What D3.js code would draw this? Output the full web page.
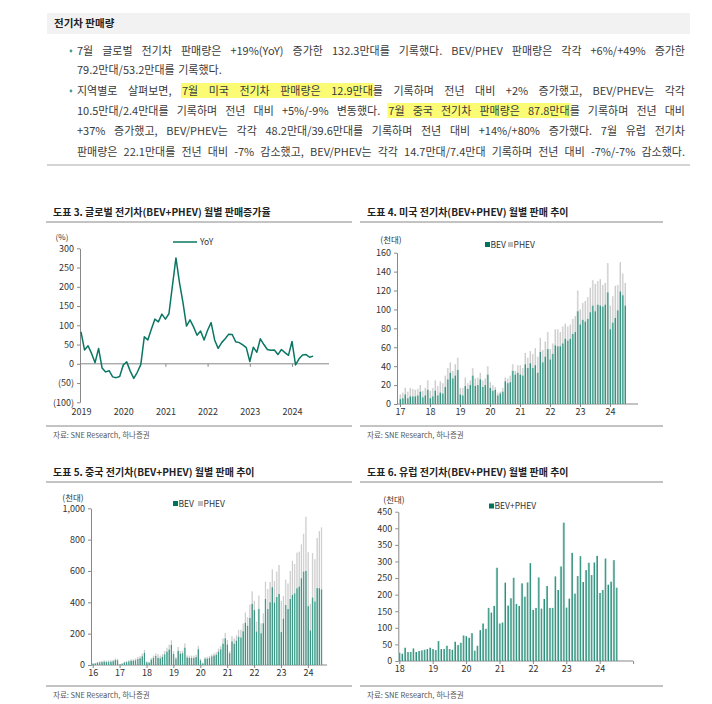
<!doctype html>
<meta charset="utf-8">
<title>전기차 판매량</title>
<script src="https://cdn.jsdelivr.net/npm/d3@7"></script>
<style>
body { margin: 0; background: #fff; }
svg text { font-family: "Noto Sans CJK KR", "Noto Sans", sans-serif; }
</style>
<body>
<script>
// ---- data ----
// global YoY (%), monthly from 2019-01
var yoy = [83,36,47,27,3,40,-11,-21,-18,-34,-36,-33,
  -3,5,-19,-38,-22,-2,70,62,90,116,109,129,
  116,130,203,275,211,159,98,114,96,74,85,62,
  87,107,62,40,55,65,77,76,57,55,49,42,
  6,43,30,65,50,37,35,36,24,37,29,22,
  58,-3,13,23,24,17,20];
var yoyYears = ["2019","2020","2021","2022","2023","2024"];
var yoyTicks = [-100,-50,0,50,100,150,200,250,300];

// US (천대), monthly from 2017-01
var usBev = [5,6,10,6,8,8,8,9,13,7,9,15,
  6,8,14,9,12,11,18,26,33,27,30,36,
  10,9,19,16,20,30,19,20,26,18,20,31,
  17,14,15,9,11,13,24,22,23,35,31,33,
  31,30,42,38,43,38,41,33,55,44,50,58,
  47,53,62,61,61,64,69,67,69,74,76,98,
  84,89,87,90,97,104,98,105,104,103,105,118,
  79,86,91,99,119,115,104];
var usTotal = [10,12,17,13,17,16,15,16,20,14,17,25,
  14,17,25,19,24,22,30,38,44,35,42,49,
  17,17,28,22,25,38,27,28,33,25,27,40,
  23,20,18,12,13,17,28,27,30,42,35,41,
  41,38,54,49,56,53,59,50,70,57,66,76,
  58,64,79,79,76,82,85,82,84,90,93,120,
  100,107,109,113,123,131,127,130,132,126,128,149,
  104,114,125,126,150,138,128];
var usYears = ["17","18","19","20","21","22","23","24"];
var usTicks = [0,20,40,60,80,100,120,140,160];

// China (천대), monthly from 2016-01
var cnBev = [8,9,14,17,19,21,19,21,21,24,32,30,
  4,8,15,19,23,27,27,30,38,42,55,78,
  18,14,33,45,58,45,42,52,68,85,98,128,
  70,40,90,72,75,110,48,45,45,45,50,100,
  30,10,40,40,45,55,60,65,85,100,135,170,
  130,75,150,135,155,180,175,215,270,250,300,390,
  350,213,357,202,266,421,357,400,496,398,434,453,
  210,295,383,357,421,447,457,489,500,553,596,600,
  375,220,430,405,490,490,482];
var cnTotal = [12,14,20,24,27,30,28,30,30,33,42,40,
  6,11,21,26,31,36,36,41,51,56,72,96,
  25,20,45,60,75,70,60,70,90,110,130,158,
  88,50,115,90,92,138,62,60,60,60,65,122,
  40,15,50,52,58,68,75,82,105,120,170,205,
  160,90,185,170,190,225,225,265,335,305,385,470,
  410,277,443,266,330,532,485,530,611,536,596,638,
  410,440,545,520,600,665,645,717,723,770,838,947,
  720,390,715,675,810,855,878];
var cnYears = ["16","17","18","19","20","21","22","23","24"];
var cnTicks = [0,200,400,600,800,1000];

// Europe BEV+PHEV (천대), monthly from 2018-01
var eu = [25,22,40,27,27,38,27,30,32,34,36,40,
  36,33,60,36,36,46,36,34,58,48,55,77,
  75,70,84,31,46,93,113,97,160,146,166,281,
  113,116,236,167,189,251,172,166,234,194,237,295,
  154,160,252,158,187,226,160,160,255,214,285,417,
  161,188,326,203,256,316,238,274,296,259,297,317,
  205,214,309,230,239,304,221];
var euYears = ["18","19","20","21","22","23","24",""];
var euTicks = [0,50,100,150,200,250,300,350,400,450];

var teal = "#00735f", grey = "#bdbdbd", ink = "#333";

var svg = d3.select("body").append("svg")
  .attr("width", 712).attr("height", 704);

var defs = svg.append("defs");
function grad(id, c0, c1, c2) {
  var g = defs.append("linearGradient").attr("id", id)
    .attr("x1", 0).attr("x2", 1).attr("y1", 0).attr("y2", 0);
  g.append("stop").attr("offset", 0).attr("stop-color", c0);
  g.append("stop").attr("offset", 0.45).attr("stop-color", c1);
  g.append("stop").attr("offset", 1).attr("stop-color", c2);
}
grad("gBev", "#b5ddd3", "#5fae9e", "#00715c");
grad("gPhev", "#f0f0f0", "#d8d8d8", "#b8b8b8");

// ---- text block ----
svg.append("rect").attr("x", 47).attr("y", 13).attr("width", 643).attr("height", 21)
  .attr("fill", "#f2f2f2");
svg.append("text").attr("x", 54).attr("y", 27).attr("font-size", 10.5)
  .attr("font-weight", "bold").attr("fill", "#222").text("전기차 판매량");
svg.append("line").attr("x1", 47).attr("x2", 690).attr("y1", 165).attr("y2", 165)
  .attr("stroke", "#aaa");

var lines = [
  {y: 51, b: true, j: true, s: "7월 글로벌 전기차 판매량은 +19%(YoY) 증가한 132.3만대를 기록했다. BEV/PHEV 판매량은 각각 +6%/+49% 증가한"},
  {y: 70, j: false, s: "79.2만대/53.2만대를 기록했다."},
  {y: 91, b: true, j: true, s: "지역별로 살펴보면, [7월 미국 전기차 판매량은 12.9만대]를 기록하며 전년 대비 +2% 증가했고, BEV/PHEV는 각각"},
  {y: 111, j: true, s: "10.5만대/2.4만대를 기록하며 전년 대비 +5%/-9% 변동했다. [7월 중국 전기차 판매량은 87.8만대]를 기록하며 전년 대비"},
  {y: 131, j: true, s: "+37% 증가했고, BEV/PHEV는 각각 48.2만대/39.6만대를 기록하며 전년 대비 +14%/+80% 증가했다. 7월 유럽 전기차"},
  {y: 152, j: true, s: "판매량은 22.1만대를 전년 대비 -7% 감소했고, BEV/PHEV는 각각 14.7만대/7.4만대 기록하며 전년 대비 -7%/-7% 감소했다."}
];

var fs = 11;
var tg = svg.append("g").attr("font-size", fs).attr("fill", "#3a3a3a");
var hg = tg.append("g");

function drawLine(str, x0, x1, y, justify) {
  var hl = false, words = [];
  str.split(" ").forEach(function(w) {
    var pieces = [], cur = "";
    Array.from(w).forEach(function(ch) {
      if (ch === "[" || ch === "]") {
        if (cur) pieces.push({t: cur, hl: hl});
        cur = ""; hl = (ch === "[");
      } else cur += ch;
    });
    if (cur) pieces.push({t: cur, hl: hl});
    words.push(pieces);
  });
  var tmp = tg.append("text");
  words.forEach(function(p) {
    p.forEach(function(q) { tmp.text(q.t); q.w = tmp.node().getComputedTextLength(); });
    p.w = d3.sum(p, function(q) { return q.w; });
  });
  tmp.remove();
  var total = d3.sum(words, function(p) { return p.w; });
  var gap = justify ? (x1 - x0 - total) / (words.length - 1) : 3.5;
  if (gap < 2) gap = 2;
  var x = x0;
  words.forEach(function(p) {
    p.forEach(function(q) { q.x = x; x += q.w; });
    x += gap;
  });
  var flat = [].concat.apply([], words), runs = [], st = null, en = null;
  flat.forEach(function(q) {
    if (q.hl) { if (st === null) st = q.x; en = q.x + q.w; }
    else if (st !== null) { runs.push([st, en]); st = null; }
  });
  if (st !== null) runs.push([st, en]);
  runs.forEach(function(r) {
    hg.append("rect").attr("x", r[0] - 1).attr("y", y - 8).attr("width", r[1] - r[0] + 2)
      .attr("height", 15).attr("fill", "#fbfb5c").attr("opacity", 0.85);
  });
  flat.forEach(function(q) {
    tg.append("text").attr("x", q.x).attr("y", y + 4).text(q.t);
  });
}

lines.forEach(function(l) {
  if (l.b) svg.append("circle").attr("cx", 71).attr("cy", l.y).attr("r", 1.4).attr("fill", "#4aa08f");
  drawLine(l.s, 77, 685, l.y, l.j);
});

// ---- chart frames ----
function frame(x0, x1, yT, title) {
  svg.append("text").attr("x", x0 + 7).attr("y", yT + 4).attr("font-size", 10)
    .attr("font-weight", "bold").attr("fill", "#222").text(title);
  [yT + 10, yT + 214].forEach(function(yy) {
    svg.append("line").attr("x1", x0).attr("x2", x1).attr("y1", yy).attr("y2", yy)
      .attr("stroke", "#888").attr("stroke-width", 1);
  });
  svg.append("text").attr("x", x0 + 7).attr("y", yT + 226).attr("font-size", 7.5)
    .attr("fill", "#555").text("자료: SNE Research, 하나증권");
}
frame(46, 352, 212, "도표 3. 글로벌 전기차(BEV+PHEV) 월별 판매증가율");
frame(360, 663, 212, "도표 4. 미국 전기차(BEV+PHEV) 월별 판매 추이");
frame(46, 352, 472, "도표 5. 중국 전기차(BEV+PHEV) 월별 판매 추이");
frame(360, 663, 472, "도표 6. 유럽 전기차(BEV+PHEV) 월별 판매 추이");

function styleAxis(g) {
  g.selectAll("line").attr("stroke", "#888");
  g.selectAll("path").attr("stroke", "#888");
  g.selectAll("text").attr("fill", ink).attr("font-size", 9)
    .style("font-family", "'Noto Sans CJK KR', sans-serif");
}

// ---- chart 3: global YoY line ----
(function() {
  var x = d3.scaleLinear().domain([0, 72]).range([81, 334.2]);
  var y = d3.scaleLinear().domain([-100, 300]).range([402.3, 248.3]);
  var ax = svg.append("g").attr("transform", "translate(80,0)")
    .call(d3.axisLeft(y).tickValues(yoyTicks).tickSize(3).tickSizeOuter(0).tickPadding(3)
      .tickFormat(function(d) { return d < 0 ? "(" + (-d) + ")" : d; }));
  styleAxis(ax);
  var yearIdx = yoyYears.map(function(d, i) { return i * 12; });
  var zx = svg.append("g").attr("transform", "translate(0," + y(0) + ")")
    .call(d3.axisBottom(x).tickValues(yearIdx.slice(1)).tickSize(3).tickFormat(""));
  zx.select(".domain").remove();
  styleAxis(zx);
  svg.append("line").attr("x1", 80).attr("x2", 329).attr("y1", y(0)).attr("y2", y(0))
    .attr("stroke", "#888");
  var lx = svg.append("g").attr("transform", "translate(0,407)")
    .call(d3.axisBottom(x).tickValues(yearIdx).tickSize(0).tickPadding(2)
      .tickFormat(function(d, i) { return yoyYears[i]; }));
  lx.select(".domain").remove();
  styleAxis(lx);
  svg.append("path").datum(yoy)
    .attr("fill", "none").attr("stroke", "#0b7663").attr("stroke-width", 1.5)
    .attr("stroke-linejoin", "round")
    .attr("d", d3.line().x(function(d, i) { return x(i); }).y(function(d) { return y(d); }));
  svg.append("text").attr("x", 62).attr("y", 239.5).attr("font-size", 8).attr("fill", ink)
    .attr("text-anchor", "middle").text("(%)");
  svg.append("line").attr("x1", 173).attr("x2", 197).attr("y1", 242).attr("y2", 242)
    .attr("stroke", "#0b7663").attr("stroke-width", 1.5);
  svg.append("text").attr("x", 200).attr("y", 245).attr("font-size", 8.5).attr("fill", ink).text("YoY");
})();

// ---- stacked monthly bar charts ----
function barChart(o) {
  var x = d3.scaleLinear().domain([0, o.years.length * 12]).range([o.x0, o.x0 + o.yearW * o.years.length]);
  var y = d3.scaleLinear().domain([0, o.max]).range([o.yBase, o.yTop]);
  var ax = svg.append("g").attr("transform", "translate(" + o.axisX + ",0)")
    .call(d3.axisLeft(y).tickValues(o.ticks).tickSize(3).tickSizeOuter(0).tickPadding(3)
      .tickFormat(d3.format(",")));
  styleAxis(ax);
  var bx = svg.append("g").attr("transform", "translate(0," + o.yBase + ")")
    .call(d3.axisBottom(x).tickValues(o.years.map(function(d, i) { return i * 12; }))
      .tickSize(3).tickPadding(2).tickFormat(function(d, i) { return o.years[i]; }));
  bx.select(".domain").remove();
  styleAxis(bx);
  svg.append("line").attr("x1", o.axisX).attr("x2", o.xEnd).attr("y1", o.yBase).attr("y2", o.yBase)
    .attr("stroke", "#888");
  var g = svg.append("g");
  if (o.total) {
    g.selectAll("rect.p").data(o.total).enter().append("rect")
      .attr("x", function(d, i) { return x(i) - o.bw / 2; })
      .attr("width", o.bw)
      .attr("y", function(d) { return y(d); })
      .attr("height", function(d) { return o.yBase - y(d); })
      .attr("fill", "url(#gPhev)");
  }
  g.selectAll("rect.b").data(o.bev).enter().append("rect")
    .attr("x", function(d, i) { return x(i) - o.bw / 2; })
    .attr("width", o.bw)
    .attr("y", function(d) { return y(d); })
    .attr("height", function(d) { return o.yBase - y(d); })
    .attr("fill", "url(#gBev)");
  svg.append("text").attr("x", o.unitX).attr("y", o.unitY).attr("font-size", 8.5)
    .attr("fill", ink).attr("text-anchor", "middle").text("(천대)");
  o.legend.forEach(function(l) {
    svg.append("rect").attr("x", l.x).attr("y", o.legY - 3).attr("width", 5).attr("height", 5)
      .attr("fill", l.c);
    svg.append("text").attr("x", l.x + 5.5).attr("y", o.legY + 2.5).attr("font-size", 8.5)
      .attr("fill", ink).text(l.t);
  });
}

barChart({bev: usBev, total: usTotal, years: usYears, ticks: usTicks, max: 160,
  x0: 400, yearW: 30, yBase: 404, yTop: 252.7, axisX: 397, xEnd: 638, bw: 1.7,
  unitX: 391, unitY: 243, legY: 245,
  legend: [{x: 485, c: teal, t: "BEV"}, {x: 508, c: grey, t: "PHEV"}]});

barChart({bev: cnBev, total: cnTotal, years: cnYears, ticks: cnTicks, max: 1000,
  x0: 92.7, yearW: 26.9, yBase: 665, yTop: 508.3, axisX: 91, xEnd: 327, bw: 1.5,
  unitX: 73, unitY: 501, legY: 504,
  legend: [{x: 173, c: teal, t: "BEV"}, {x: 198, c: grey, t: "PHEV"}]});

barChart({bev: eu, years: euYears, ticks: euTicks, max: 450,
  x0: 399.3, yearW: 33.4, yBase: 661, yTop: 511.7, axisX: 398.3, xEnd: 633, bw: 1.9,
  unitX: 394, unitY: 503, legY: 506.5,
  legend: [{x: 489, c: teal, t: "BEV+PHEV"}]});
</script>
</body>
